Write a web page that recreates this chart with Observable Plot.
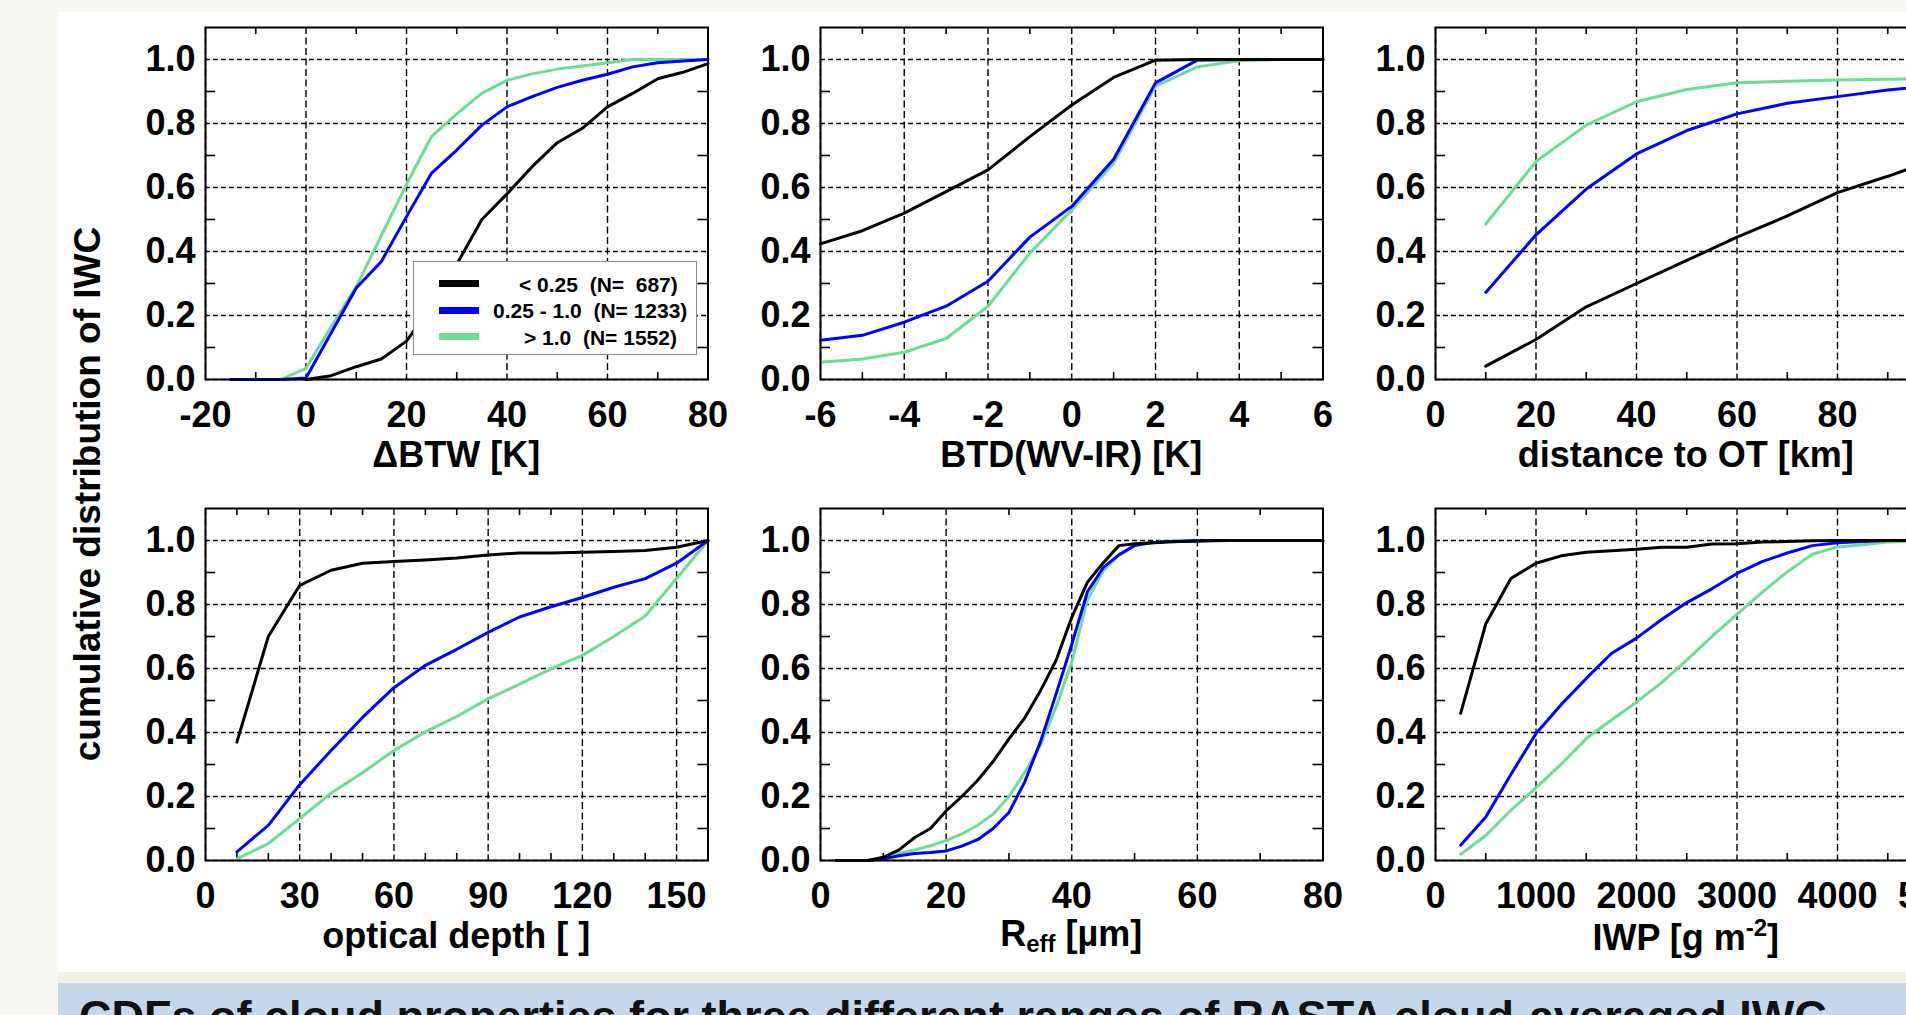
<!DOCTYPE html>
<html>
<head>
<meta charset="utf-8">
<script src="https://cdn.jsdelivr.net/npm/d3@7"></script>
<script src="https://cdn.jsdelivr.net/npm/@observablehq/plot@0.6"></script>
<style>
  html, body { margin: 0; padding: 0; }
  body { width: 1906px; height: 1015px; overflow: hidden; background: #f6f8f1;
         font-family: "Liberation Sans", Arial, Helvetica, sans-serif; }
  #page { position: absolute; left: 0; top: 0; width: 1906px; height: 1015px; overflow: hidden; }
  #sheet { position: absolute; left: 58px; top: 12px; width: 1848px; height: 960px; background: #ffffff; }
  #band { position: absolute; left: 58px; top: 972px; width: 1848px; height: 11px; background: #eff3e6; }
  #caption { position: absolute; left: 58px; top: 983px; width: 1848px; height: 32px; background: #c5d7ea; overflow: hidden; }
  #caption div { position: absolute; left: 21px; top: 8px; font-size: 45px; font-weight: bold; color: #111; white-space: nowrap; }
  .panel { position: absolute; }
  .xtitle { position: absolute; font-size: 36px; font-weight: bold; white-space: nowrap; transform: translate(-50%, -50%); color: #000; line-height: 1; }
  .xtitle sub { font-size: 24px; vertical-align: -6px; }
  .xtitle sup { font-size: 24px; vertical-align: 14px; }
  #ytitle { position: absolute; left: 87px; top: 494px; font-size: 37px; font-weight: bold; white-space: nowrap;
            transform: translate(-50%, -50%) rotate(-90deg); line-height: 1; }
  #legend { position: absolute; left: 413px; top: 261px; width: 282px; height: 92px; border: 1.5px solid #8c8c8c; background: #fff; }
  .lg-sw { position: absolute; width: 40px; height: 7px; }
  .lg-tx { position: absolute; font-size: 21px; font-weight: bold; white-space: pre; transform: translateY(-50%); line-height: 1; }
</style>
</head>
<body>
<div id="page">
  <div id="sheet"></div>
  <div id="band"></div>
  <div id="caption"><div>CDFs of cloud properties for three different ranges of RASTA cloud-averaged IWC</div></div>
  <div id="ytitle">cumulative distribution of IWC</div>
</div>
<script>
// ---------------- data ----------------
const seriesNames = ["< 0.25", "0.25 - 1.0", "> 1.0"];
const seriesN = [687, 1233, 1552];
const seriesColors = ["#000000", "#0000ff", "#6cdc96"];
const drawOrder = [2, 1, 0]; // green, blue, black on top

const yMajor = [0, 0.2, 0.4, 0.6, 0.8, 1.0];
const yMinor = [0.1, 0.3, 0.5, 0.7, 0.9];
const yDomain = [0, 1.1];

// Panel 1: ΔBTW [K]
const btwX    = [-15, -10, -5, 0, 5, 10, 15, 20, 25, 30, 35, 40, 45, 50, 55, 60, 65, 70, 75, 80];
const btwLow  = [null, null, null, 0, 0.012, 0.04, 0.064, 0.12, 0.23, 0.36, 0.5, 0.58, 0.665, 0.74, 0.785, 0.852, 0.894, 0.94, 0.96, 0.987];
const btwMid  = [0, 0, 0, 0.005, 0.145, 0.286, 0.369, 0.509, 0.645, 0.717, 0.795, 0.852, 0.884, 0.913, 0.935, 0.954, 0.977, 0.99, 0.995, 1.0];
const btwHigh = [0, 0, 0, 0.035, 0.165, 0.29, 0.45, 0.61, 0.76, 0.83, 0.895, 0.935, 0.955, 0.97, 0.98, 0.99, 1.0, 1.0, 1.0, 1.0];

// Panel 2: BTD(WV-IR) [K]
const btdX    = [-6, -5, -4, -3, -2, -1, 0, 1, 2, 3, 4, 5, 6];
const btdLow  = [0.424, 0.465, 0.52, 0.587, 0.655, 0.759, 0.858, 0.944, 0.998, 1, 1, 1, 1];
const btdMid  = [0.123, 0.138, 0.179, 0.229, 0.307, 0.445, 0.541, 0.688, 0.927, 0.998, 1, 1, 1];
const btdHigh = [0.054, 0.064, 0.085, 0.128, 0.229, 0.395, 0.53, 0.676, 0.917, 0.977, 0.996, 1, 1];

// Panel 3: distance to OT [km]
const distX    = [10, 20, 30, 40, 50, 60, 70, 80, 90, 100];
const distLow  = [0.042, 0.125, 0.227, 0.3, 0.372, 0.445, 0.511, 0.584, 0.635, 0.69];
const distMid  = [0.272, 0.452, 0.595, 0.705, 0.778, 0.83, 0.863, 0.884, 0.905, 0.92];
const distHigh = [0.486, 0.681, 0.795, 0.868, 0.906, 0.927, 0.932, 0.936, 0.938, 0.94];

// Panel 4: optical depth [ ]
const tauX    = [10, 20, 30, 40, 50, 60, 70, 80, 90, 100, 110, 120, 130, 140, 150, 160];
const tauLow  = [0.37, 0.70, 0.86, 0.907, 0.929, 0.934, 0.939, 0.945, 0.955, 0.961, 0.961, 0.963, 0.966, 0.969, 0.979, 1.0];
const tauMid  = [0.027, 0.11, 0.237, 0.344, 0.447, 0.54, 0.61, 0.66, 0.713, 0.761, 0.793, 0.822, 0.854, 0.881, 0.929, 1.0];
const tauHigh = [0.005, 0.053, 0.131, 0.211, 0.274, 0.344, 0.402, 0.45, 0.505, 0.551, 0.599, 0.641, 0.70, 0.764, 0.881, 1.0];

// Panel 5: R_eff [µm]
const reffX    = [2.5, 5, 7.5, 10, 12.5, 15, 17.5, 20, 22.5, 25, 27.5, 30, 32.5, 35, 37.5, 40, 42.5, 45, 47.5, 50, 52.5, 55, 57.5, 60, 62.5, 65, 67.5, 70, 72.5, 75, 77.5, 80];
const reffLow  = [0, 0, 0, 0.01, 0.033, 0.072, 0.10, 0.155, 0.2, 0.25, 0.31, 0.38, 0.445, 0.53, 0.625, 0.76, 0.87, 0.93, 0.984, 0.99, 0.992, 0.995, 0.997, 0.998, 0.999, 1, 1, 1, 1, 1, 1, 1];
const reffMid  = [0, 0, 0, 0.005, 0.015, 0.022, 0.025, 0.03, 0.045, 0.065, 0.10, 0.15, 0.245, 0.37, 0.52, 0.675, 0.84, 0.915, 0.955, 0.984, 0.993, 0.996, 0.998, 1, 1, 1, 1, 1, 1, 1, 1, 1];
const reffHigh = [0, 0, 0, 0.005, 0.022, 0.033, 0.046, 0.062, 0.083, 0.11, 0.145, 0.2, 0.275, 0.36, 0.48, 0.62, 0.815, 0.905, 0.955, 0.985, 0.993, 0.997, 0.999, 1, 1, 1, 1, 1, 1, 1, 1, 1];

// Panel 6: IWP [g m^-2]
const iwpX    = [250, 500, 750, 1000, 1250, 1500, 1750, 2000, 2250, 2500, 2750, 3000, 3250, 3500, 3750, 4000, 4250, 4500, 4750, 5000];
const iwpLow  = [0.46, 0.739, 0.881, 0.929, 0.952, 0.963, 0.968, 0.973, 0.979, 0.979, 0.989, 0.99, 0.995, 0.997, 0.999, 1, 1, 1, 1, 1];
const iwpMid  = [0.048, 0.136, 0.269, 0.397, 0.487, 0.569, 0.647, 0.695, 0.753, 0.806, 0.849, 0.897, 0.934, 0.961, 0.984, 0.993, 0.997, 1, 1, 1];
const iwpHigh = [0.019, 0.078, 0.157, 0.227, 0.301, 0.381, 0.439, 0.495, 0.556, 0.626, 0.70, 0.769, 0.838, 0.902, 0.957, 0.98, 0.987, 0.995, 0.998, 1];

const panels = [
  {title: "ΔBTW [K]",            domain: [-20, 80], major: [-20, 0, 20, 40, 60, 80],      minor: 10,  x: btwX,  ys: [btwLow, btwMid, btwHigh]},
  {title: "BTD(WV-IR) [K]",      domain: [-6, 6],   major: [-6, -4, -2, 0, 2, 4, 6],      minor: 1,   x: btdX,  ys: [btdLow, btdMid, btdHigh]},
  {title: "distance to OT [km]", domain: [0, 100],  major: [0, 20, 40, 60, 80, 100],      minor: 10,  x: distX, ys: [distLow, distMid, distHigh]},
  {title: "optical depth [ ]",   domain: [0, 160],  major: [0, 30, 60, 90, 120, 150],     minor: 10,  x: tauX,  ys: [tauLow, tauMid, tauHigh]},
  {title: "R<sub>eff</sub> [µm]", domain: [0, 80],  major: [0, 20, 40, 60, 80],           minor: 10,  x: reffX, ys: [reffLow, reffMid, reffHigh]},
  {title: "IWP [g m<sup>-2</sup>]", domain: [0, 5000], major: [0, 1000, 2000, 3000, 4000, 5000], minor: 500, x: iwpX, ys: [iwpLow, iwpMid, iwpHigh]}
];

// ---------------- layout ----------------
const FW = 502.5, FH = 352, ML = 130, MR = 12, MT = 12, MB = 70;
const colLeft = [205, 820, 1434.5];
const rowTop = [27.3, 507.5];
const page = document.getElementById("page");
const INK = "#000";

panels.forEach((p, k) => {
  const col = k % 3, row = Math.floor(k / 3);
  const [x0, x1] = p.domain;
  const xr = x1 - x0, yr = yDomain[1] - yDomain[0];
  const nMinor = Math.round(xr / p.minor);
  const minorX = d3.range(nMinor + 1).map(i => x0 + i * p.minor).filter(v => !p.major.some(m => Math.abs(m - v) < 1e-9));

  const lineMarks = drawOrder.map(i =>
    Plot.line(p.x.map((xv, j) => ({x: xv, y: p.ys[i][j], s: seriesNames[i]})).filter(d => d.y != null),
      {x: "x", y: "y", stroke: seriesColors[i], strokeWidth: 3, strokeLinejoin: "round"}));

  const chart = Plot.plot({
    width: ML + FW + MR, height: MT + FH + MB,
    marginLeft: ML, marginRight: MR, marginTop: MT, marginBottom: MB,
    x: {domain: p.domain},
    y: {domain: yDomain},
    style: {background: "none", maxWidth: "none", overflow: "visible",
            fontFamily: "'Liberation Sans', Arial, Helvetica, sans-serif", fontSize: "36px", fontWeight: "bold", color: "#000"},
    marks: [
      Plot.ruleY(yMajor, {stroke: INK, strokeWidth: 1.4, strokeDasharray: "5,3"}),
      Plot.ruleX(p.major, {stroke: INK, strokeWidth: 1.4, strokeDasharray: "7,3.5"}),
      Plot.ruleY(yMinor, {x1: x0, x2: x0 + 0.02 * xr, stroke: INK, strokeWidth: 1.6}),
      Plot.ruleY(yMinor, {x1: x1 - 0.02 * xr, x2: x1, stroke: INK, strokeWidth: 1.6}),
      Plot.ruleX(minorX, {y1: yDomain[0], y2: yDomain[0] + 0.02 * yr, stroke: INK, strokeWidth: 1.6}),
      Plot.ruleX(minorX, {y1: yDomain[1] - 0.02 * yr, y2: yDomain[1], stroke: INK, strokeWidth: 1.6}),
      ...lineMarks,
      Plot.frame({stroke: INK, strokeWidth: 2}),
      Plot.axisX({ticks: p.major, tickSize: 0, tickPadding: 22, label: null, tickFormat: d => String(d).replace("−", "-"),
                  fontSize: 36, fontWeight: "bold", fill: INK}),
      Plot.axisY({ticks: yMajor, tickSize: 0, tickPadding: 10, label: null, tickFormat: d3.format(".1f"),
                  fontSize: 36, fontWeight: "bold", fill: INK})
    ]
  });
  chart.classList.add("panel");
  chart.style.left = (colLeft[col] - ML) + "px";
  chart.style.top = (rowTop[row] - MT) + "px";
  page.appendChild(chart);

  const t = document.createElement("div");
  t.className = "xtitle";
  t.innerHTML = p.title;
  t.style.left = (colLeft[col] + FW / 2) + "px";
  t.style.top = (rowTop[row] + FH + 76) + "px";
  page.appendChild(t);
});

// legend (inside the first panel)
const legend = document.createElement("div");
legend.id = "legend";
page.appendChild(legend);
const lgRowsY = [21.5, 48, 74.5];
const lgTextLeft = [105, 79, 110];
seriesNames.forEach((name, i) => {
  const sw = document.createElement("div");
  sw.className = "lg-sw";
  sw.style.left = "25px";
  sw.style.top = (lgRowsY[i] - 3.5) + "px";
  sw.style.background = seriesColors[i];
  legend.appendChild(sw);
  const tx = document.createElement("div");
  tx.className = "lg-tx";
  tx.style.left = lgTextLeft[i] + "px";
  tx.style.top = lgRowsY[i] + "px";
  const nStr = String(seriesN[i]).padStart(5, " ");
  tx.textContent = name + "  (N=" + nStr + ")";
  legend.appendChild(tx);
});
</script>
</body>
</html>
